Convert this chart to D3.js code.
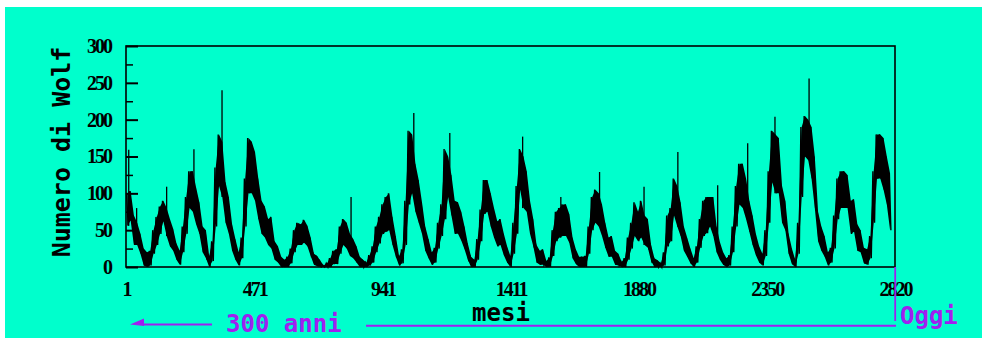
<!DOCTYPE html>
<html>
<head>
<meta charset="utf-8">
<script src="https://cdn.jsdelivr.net/npm/d3@7"></script>
<style>
  html, body { margin: 0; padding: 0; background: #ffffff; }
  svg { display: block; }
</style>
</head>
<body>
<svg id="chart" width="982" height="338"></svg>
<script>
// Years covered: 1749 .. 1983; per year the upper and lower edge of the monthly band
const firstYear = 1749;
const hiVals = [
  100,103,70,60,45,25,20,22,50,68, 82,90,80,65,52,32,22,55,95,130,
  130,108,88,55,50,15,35,135,180,170, 115,95,58,38,20,40,120,175,170,156,
  120,90,82,65,68,35,28,14,10,14, 25,50,60,58,64,56,40,18,15,8,
  2,5,12,22,24,55,65,60,45,38, 28,14,10,6,16,28,55,68,85,95,
  100,68,42,15,24,90,185,180,140,118, 88,55,38,20,26,60,85,160,150,125,
  90,88,75,55,32,14,10,38,78,118, 118,100,80,62,65,45,28,15,60,110,
  160,150,130,90,65,30,22,24,8,13, 50,75,80,85,85,72,40,24,14,14,
  15,55,95,105,100,85,60,40,42,22, 18,7,12,40,60,88,75,90,70,65,
  30,12,9,5,20,70,80,120,110,88, 55,40,25,12,28,65,90,95,95,95,
  55,34,20,12,16,55,110,140,140,120, 90,70,45,28,18,50,130,185,180,175,
  110,90,45,25,10,60,190,205,200,190, 150,75,55,42,20,26,70,120,130,130,
  125,90,92,58,50,26,24,42,130,180, 180,175,150,127
];
const loVals = [
  56,63,30,30,18,2,0,2,18,30, 45,62,42,28,22,10,3,20,45,80,
  75,58,45,20,12,0,8,55,110,95, 60,45,22,10,2,12,55,100,100,90,
  65,45,40,30,25,10,6,0,0,0, 5,20,30,30,33,28,15,3,1,0,
  0,0,0,4,4,18,30,25,15,12, 6,0,0,0,2,6,20,32,45,48,
  50,30,14,2,5,30,85,100,75,60, 45,22,12,3,6,25,42,65,95,70,
  45,45,36,24,10,0,0,10,35,72, 75,55,40,28,30,16,6,0,18,45,
  105,80,75,45,28,6,3,3,0,0, 15,35,40,42,42,33,12,4,0,0,
  0,18,50,60,55,42,26,14,14,3, 2,0,0,10,25,42,35,40,30,26,
  8,0,0,0,2,28,35,70,55,42, 22,14,5,0,6,26,42,46,55,42,
  20,10,3,0,2,20,55,85,80,65, 48,30,16,6,2,15,60,115,100,100,
  60,50,18,4,0,18,95,150,145,120, 80,35,22,14,2,6,25,65,80,80,
  80,45,48,22,20,5,3,12,60,120, 120,105,85,50
];
// isolated monthly spikes standing above the band
const spikeMonths = [11, 40, 150, 250, 353, 826, 1056, 1188, 1455, 1595, 1737, 1900, 2024, 2170, 2280, 2380, 2505];
const spikeVals   = [159, 80, 109, 160, 240, 95, 209, 182, 177, 95, 129, 109, 156, 111, 168, 204, 256];
const yTickMajor = [0, 50, 100, 150, 200, 250, 300];
const yTickMinor = [25, 75, 125, 175, 225, 275];
const xTickLabels = [1, 471, 941, 1411, 1880, 2350, 2820];
const monthsTotal = 2820;

// Build series: per year, high reading in spring, low reading in autumn
const series = [];
hiVals.forEach((h, k) => {
  series.push({ m: 12 * k + 3, v: h });
  series.push({ m: 12 * k + 9, v: loVals[k] });
});
const band = hiVals.map((h, k) => ({ m: 12 * k + 6, hi: h, lo: loVals[k] }));

const svg = d3.select("#chart");
const W = 982, H = 338;
const green = "#00FFCC";
const purple = "#A020F0";

svg.append("rect").attr("x", 5).attr("y", 7).attr("width", W - 5).attr("height", H - 7).attr("fill", green);

const x = d3.scaleLinear().domain([1, monthsTotal]).range([126, 895]);
const y = d3.scaleLinear().domain([0, 300]).range([267, 46]);

// solid band between low and high monthly values
svg.append("path")
  .datum(band)
  .attr("d", d3.area().x(d => x(d.m)).y0(d => y(d.lo)).y1(d => y(d.hi)))
  .attr("fill", "#000");

// monthly zig-zag
svg.append("path")
  .datum(series)
  .attr("d", d3.line().x(d => x(d.m)).y(d => y(d.v)))
  .attr("fill", "none")
  .attr("stroke", "#000")
  .attr("stroke-width", 1.4);

// spikes
svg.append("g").selectAll("line")
  .data(spikeMonths.map((m, i) => ({ m, v: spikeVals[i], base: loVals[Math.floor((m - 1) / 12)] })))
  .join("line")
  .attr("x1", d => x(d.m)).attr("x2", d => x(d.m))
  .attr("y1", d => y(d.v)).attr("y2", d => y(d.base))
  .attr("stroke", "#000").attr("stroke-width", 1.3);

// frame
svg.append("rect")
  .attr("x", 126).attr("y", 46)
  .attr("width", 895 - 126).attr("height", 267 - 46)
  .attr("fill", "none").attr("stroke", "#000").attr("stroke-width", 1.6);

const labelFont = "'Liberation Serif', 'DejaVu Serif', serif";

// inward ticks
const gMaj = svg.append("g").attr("transform", "translate(126,0)")
  .call(d3.axisRight(y).tickValues(yTickMajor).tickSize(12).tickFormat(""));
gMaj.select(".domain").remove();
gMaj.selectAll("line").attr("stroke", "#000").attr("stroke-width", 2);
const gMin = svg.append("g").attr("transform", "translate(126,0)")
  .call(d3.axisRight(y).tickValues(yTickMinor).tickSize(7).tickFormat(""));
gMin.select(".domain").remove();
gMin.selectAll("line").attr("stroke", "#000").attr("stroke-width", 1.5);

// y labels
const gYL = svg.append("g").attr("transform", "translate(126,0)")
  .call(d3.axisLeft(y).tickValues(yTickMajor).tickSize(0).tickPadding(15));
gYL.select(".domain").remove();
gYL.selectAll("text")
  .attr("font-family", labelFont).attr("font-weight", "bold")
  .attr("font-size", 20).attr("letter-spacing", "-2px").attr("fill", "#000");

// x labels
const gXL = svg.append("g").attr("transform", "translate(0,267)")
  .call(d3.axisBottom(x).tickValues(xTickLabels).tickSize(0).tickPadding(15).tickFormat(d3.format("d")));
gXL.select(".domain").remove();
gXL.selectAll("text")
  .attr("font-family", labelFont).attr("font-weight", "bold")
  .attr("font-size", 20).attr("letter-spacing", "-2px").attr("fill", "#000");

const mono = "'DejaVu Sans Mono', monospace";

// axis titles
svg.append("text")
  .attr("transform", "translate(70,152) rotate(-90)")
  .attr("text-anchor", "middle")
  .attr("font-family", mono).attr("font-weight", "bold").attr("font-size", 25)
  .attr("fill", "#000").text("Numero di Wolf");

svg.append("text")
  .attr("x", 501).attr("y", 321)
  .attr("text-anchor", "middle")
  .attr("font-family", mono).attr("font-weight", "bold").attr("font-size", 24)
  .attr("fill", "#000").text("mesi");

// purple annotation
svg.append("line").attr("x1", 143).attr("x2", 212).attr("y1", 324.5).attr("y2", 324.5)
  .attr("stroke", purple).attr("stroke-width", 2);
svg.append("path").attr("d", "M130,324.5 L144,318.5 L144,326 Z").attr("fill", purple);
svg.append("text").attr("x", 226).attr("y", 331.5)
  .attr("font-family", mono).attr("font-weight", "bold").attr("font-size", 24).attr("fill", purple).text("300 anni");
svg.append("line").attr("x1", 366).attr("x2", 896).attr("y1", 325.8).attr("y2", 325.8)
  .attr("stroke", purple).attr("stroke-width", 2);
svg.append("line").attr("x1", 895.2).attr("x2", 895.2).attr("y1", 267).attr("y2", 321)
  .attr("stroke", purple).attr("stroke-width", 1.8);
svg.append("text").attr("x", 900).attr("y", 324)
  .attr("font-family", mono).attr("font-weight", "bold").attr("font-size", 24).attr("fill", purple).text("Oggi");
</script>
</body>
</html>
